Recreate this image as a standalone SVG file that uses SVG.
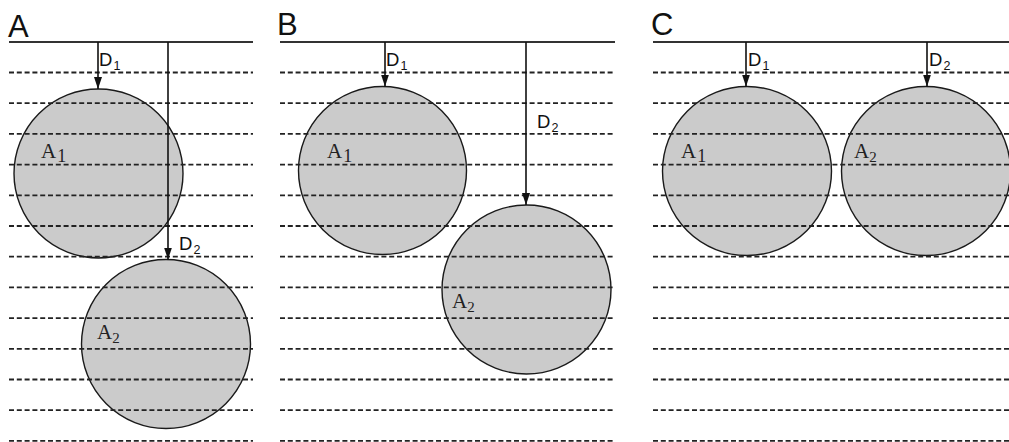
<svg xmlns="http://www.w3.org/2000/svg" width="1009" height="442" viewBox="0 0 1009 442">
  <style>
    .bg { fill: #ffffff; }
    .disc { fill: #cbcbcb; stroke: #1a1a1a; stroke-width: 1.4; }
    .surface { stroke: #333333; stroke-width: 2; fill: none; }
    .layer line { stroke: #222222; stroke-width: 1.8; stroke-dasharray: 5 2.8; fill: none; }
    .depth { stroke: #111111; stroke-width: 1.6; fill: none; }
    .panel { font-family: "Liberation Sans", Arial, sans-serif; font-size: 31px; fill: #111111; }
    .dlab { font-family: "Liberation Sans", Arial, sans-serif; font-size: 18.5px; fill: #111111; }
    .dsub { font-size: 12.5px; }
    .alab { font-family: "Liberation Serif", "Times New Roman", serif; font-size: 21px; fill: #222222; }
    .asub { font-size: 15px; }
    .asub1 { font-size: 18px; }
  </style>
  <defs>
    <marker id="head" viewBox="0 0 12 8" refX="12" refY="4" markerWidth="12" markerHeight="8" markerUnits="userSpaceOnUse" orient="auto">
      <path d="M0,0 L12,4 L0,8 Z" fill="#111111"/>
    </marker>
  </defs>
  <rect class="bg" x="0" y="0" width="1009" height="442"/>

  <!-- Panel A: discs at two depths along one layer stack -->
  <g id="panel-a">
    <text class="panel" x="8" y="37">A</text>
    <g id="a-disc1"><circle class="disc" cx="98.5" cy="173.5" r="84.5"/></g>
    <g id="a-disc2"><circle class="disc" cx="166" cy="344" r="84.5"/></g>
    <g class="layer">
      <line x1="9" x2="253" y1="72.5" y2="72.5"/>
      <line x1="9" x2="253" y1="103.2" y2="103.2"/>
      <line x1="9" x2="253" y1="133.9" y2="133.9"/>
      <line x1="9" x2="253" y1="164.6" y2="164.6"/>
      <line x1="9" x2="253" y1="195.3" y2="195.3"/>
      <line x1="9" x2="253" y1="226" y2="226"/>
      <line x1="9" x2="253" y1="256.7" y2="256.7"/>
      <line x1="9" x2="253" y1="287.4" y2="287.4"/>
      <line x1="9" x2="253" y1="318.1" y2="318.1"/>
      <line x1="9" x2="253" y1="348.8" y2="348.8"/>
      <line x1="9" x2="253" y1="379.5" y2="379.5"/>
      <line x1="9" x2="253" y1="410.2" y2="410.2"/>
      <line x1="9" x2="253" y1="440.9" y2="440.9"/>
    </g>
    <line class="surface" x1="9" x2="253" y1="42" y2="42"/>
    <g id="a-connectors">
      <line class="depth" x1="98" y1="42" x2="98" y2="89" marker-end="url(#head)"/>
      <line class="depth" x1="168" y1="42" x2="168" y2="259.5" marker-end="url(#head)"/>
    </g>
    <text class="dlab" x="99" y="66">D<tspan class="dsub" dx="1" dy="4">1</tspan></text>
    <text class="dlab" x="179" y="250">D<tspan class="dsub" dx="1" dy="4">2</tspan></text>
    <text class="alab" x="41" y="158">A<tspan class="asub1" dx="1" dy="4">1</tspan></text>
    <text class="alab" x="97" y="339">A<tspan class="asub" dy="4">2</tspan></text>
  </g>

  <!-- Panel B -->
  <g id="panel-b">
    <text class="panel" x="277" y="35">B</text>
    <g id="b-disc1"><circle class="disc" cx="382.5" cy="170.5" r="84"/></g>
    <g id="b-disc2"><circle class="disc" cx="526.5" cy="289.5" r="84.5"/></g>
    <g class="layer">
      <line x1="280" x2="615" y1="72.5" y2="72.5"/>
      <line x1="280" x2="615" y1="103.2" y2="103.2"/>
      <line x1="280" x2="615" y1="133.9" y2="133.9"/>
      <line x1="280" x2="615" y1="164.6" y2="164.6"/>
      <line x1="280" x2="615" y1="195.3" y2="195.3"/>
      <line x1="280" x2="615" y1="226" y2="226"/>
      <line x1="280" x2="615" y1="256.7" y2="256.7"/>
      <line x1="280" x2="615" y1="287.4" y2="287.4"/>
      <line x1="280" x2="615" y1="318.1" y2="318.1"/>
      <line x1="280" x2="615" y1="348.8" y2="348.8"/>
      <line x1="280" x2="615" y1="379.5" y2="379.5"/>
      <line x1="280" x2="615" y1="410.2" y2="410.2"/>
      <line x1="280" x2="615" y1="440.9" y2="440.9"/>
    </g>
    <line class="surface" x1="280" x2="615" y1="42" y2="42"/>
    <g id="b-connectors">
      <line class="depth" x1="385" y1="42" x2="385" y2="86.5" marker-end="url(#head)"/>
      <line class="depth" x1="526" y1="42" x2="526" y2="205" marker-end="url(#head)"/>
    </g>
    <text class="dlab" x="386" y="66">D<tspan class="dsub" dx="1" dy="4">1</tspan></text>
    <text class="dlab" x="537" y="128">D<tspan class="dsub" dx="1" dy="4">2</tspan></text>
    <text class="alab" x="327" y="158">A<tspan class="asub1" dx="1" dy="4">1</tspan></text>
    <text class="alab" x="452" y="308">A<tspan class="asub" dy="4">2</tspan></text>
  </g>

  <!-- Panel C -->
  <g id="panel-c">
    <text class="panel" x="651" y="35">C</text>
    <g id="c-disc1"><circle class="disc" cx="747" cy="171" r="84.5"/></g>
    <g id="c-disc2"><circle class="disc" cx="926" cy="171" r="84.5"/></g>
    <g class="layer">
      <line x1="653" x2="1009" y1="72.5" y2="72.5"/>
      <line x1="653" x2="1009" y1="103.2" y2="103.2"/>
      <line x1="653" x2="1009" y1="133.9" y2="133.9"/>
      <line x1="653" x2="1009" y1="164.6" y2="164.6"/>
      <line x1="653" x2="1009" y1="195.3" y2="195.3"/>
      <line x1="653" x2="1009" y1="226" y2="226"/>
      <line x1="653" x2="1009" y1="256.7" y2="256.7"/>
      <line x1="653" x2="1009" y1="287.4" y2="287.4"/>
      <line x1="653" x2="1009" y1="318.1" y2="318.1"/>
      <line x1="653" x2="1009" y1="348.8" y2="348.8"/>
      <line x1="653" x2="1009" y1="379.5" y2="379.5"/>
      <line x1="653" x2="1009" y1="410.2" y2="410.2"/>
      <line x1="653" x2="1009" y1="440.9" y2="440.9"/>
    </g>
    <line class="surface" x1="653" x2="1009" y1="42" y2="42"/>
    <g id="c-connectors">
      <line class="depth" x1="746" y1="42" x2="746" y2="86.5" marker-end="url(#head)"/>
      <line class="depth" x1="927" y1="42" x2="927" y2="86.5" marker-end="url(#head)"/>
    </g>
    <text class="dlab" x="748" y="66">D<tspan class="dsub" dx="1" dy="4">1</tspan></text>
    <text class="dlab" x="929" y="66">D<tspan class="dsub" dx="1" dy="4">2</tspan></text>
    <text class="alab" x="681" y="158">A<tspan class="asub1" dx="1" dy="4">1</tspan></text>
    <text class="alab" x="854" y="158">A<tspan class="asub" dy="4">2</tspan></text>
  </g>
</svg>
